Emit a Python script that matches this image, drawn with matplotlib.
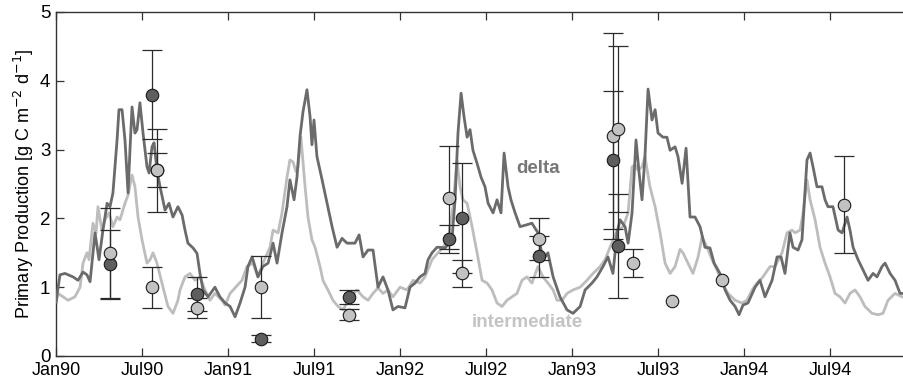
"""
Primary production time series: delta vs intermediate, with field measurements
"""

import matplotlib

matplotlib.use("Agg")
import matplotlib.pyplot as plt

plt.rcParams["font.family"] = ["Liberation Sans", "DejaVu Sans"]

# modelled production, time in decimal years
t_delta = [
    1990.000, 1990.023, 1990.052, 1990.099, 1990.128, 1990.157, 1990.180, 1990.198,
    1990.227, 1990.250, 1990.273, 1990.297, 1990.314, 1990.331, 1990.355, 1990.366,
    1990.384, 1990.401, 1990.419, 1990.430, 1990.442, 1990.459, 1990.471, 1990.488,
    1990.506, 1990.529, 1990.541, 1990.558, 1990.570, 1990.587, 1990.605, 1990.634,
    1990.657, 1990.680, 1990.709, 1990.733, 1990.750, 1990.767, 1990.797, 1990.820,
    1990.837, 1990.855, 1990.884, 1990.924, 1990.953, 1990.983, 1991.012, 1991.041,
    1991.070, 1991.099, 1991.116, 1991.140, 1991.157, 1991.174, 1991.203, 1991.233,
    1991.262, 1991.285, 1991.314, 1991.343, 1991.360, 1991.384, 1991.401, 1991.419,
    1991.436, 1991.459, 1991.477, 1991.488, 1991.500, 1991.517, 1991.547, 1991.576,
    1991.605, 1991.634, 1991.663, 1991.692, 1991.738, 1991.762, 1991.785, 1991.814,
    1991.843, 1991.872, 1991.901, 1991.930, 1991.959, 1991.988, 1992.029, 1992.058,
    1992.087, 1992.116, 1992.145, 1992.163, 1992.186, 1992.215, 1992.233, 1992.262,
    1992.302, 1992.320, 1992.337, 1992.355, 1992.372, 1992.390, 1992.407, 1992.424,
    1992.448, 1992.471, 1992.494, 1992.512, 1992.541, 1992.564, 1992.587, 1992.605,
    1992.628, 1992.645, 1992.669, 1992.698, 1992.727, 1992.767, 1992.802, 1992.831,
    1992.860, 1992.890, 1992.930, 1992.971, 1993.006, 1993.047, 1993.076, 1993.116,
    1993.145, 1993.180, 1993.209, 1993.238, 1993.262, 1993.279, 1993.308, 1993.326,
    1993.349, 1993.372, 1993.390, 1993.407, 1993.424, 1993.442, 1993.465, 1993.483,
    1993.500, 1993.529, 1993.552, 1993.570, 1993.599, 1993.616, 1993.640, 1993.663,
    1993.686, 1993.715, 1993.744, 1993.773, 1993.802, 1993.826, 1993.860, 1993.890,
    1993.919, 1993.948, 1993.971, 1993.994, 1994.023, 1994.064, 1994.093, 1994.122,
    1994.163, 1994.192, 1994.215, 1994.238, 1994.267, 1994.285, 1994.314, 1994.337,
    1994.366, 1994.384, 1994.401, 1994.424, 1994.453, 1994.471, 1994.488, 1994.517,
    1994.547, 1994.570, 1994.599, 1994.616, 1994.634, 1994.663, 1994.692, 1994.721,
    1994.750, 1994.773, 1994.802, 1994.820, 1994.849, 1994.878, 1994.907, 1994.930,
]
pp_delta = [
    0.78, 1.18, 1.20, 1.15, 1.10, 1.22, 1.18, 1.08,
    1.79, 1.40, 1.83, 2.22, 2.17, 2.37, 3.14, 3.58,
    3.58, 3.14, 2.37, 2.99, 3.62, 3.24, 3.29, 3.68,
    3.24, 2.75, 2.66, 3.04, 3.10, 2.70, 2.46, 2.12,
    2.22, 2.02, 2.17, 2.05, 1.83, 1.64, 1.57, 1.49,
    1.20, 0.96, 0.86, 1.00, 0.86, 0.77, 0.72, 0.57,
    0.77, 1.00, 1.30, 1.44, 1.30, 1.15, 1.30, 1.35,
    1.64, 1.35, 1.79, 2.17, 2.56, 2.27, 2.60, 3.20,
    3.55, 3.87, 3.48, 3.07, 3.43, 2.90, 2.56, 2.22,
    1.88, 1.58, 1.71, 1.64, 1.64, 1.76, 1.44, 1.54,
    1.54, 1.00, 1.15, 0.96, 0.67, 0.72, 0.70, 1.00,
    1.06, 1.15, 1.20, 1.40, 1.50, 1.58, 1.58, 1.57,
    1.69, 2.27, 3.24, 3.82, 3.48, 3.18, 3.29, 2.99,
    2.80, 2.60, 2.46, 2.22, 2.08, 2.27, 2.08, 2.95,
    2.46, 2.27, 2.08, 1.88, 1.90, 1.93, 1.79, 1.40,
    1.50, 1.15, 0.86, 0.67, 0.62, 0.72, 0.96, 1.06,
    1.15, 1.30, 1.44, 1.20, 1.79, 1.98, 1.88, 1.64,
    2.08, 3.14, 2.66, 2.27, 2.90, 3.88, 3.43, 3.58,
    3.24, 3.18, 3.18, 2.99, 3.04, 2.90, 2.51, 3.02,
    2.02, 2.02, 1.88, 1.58, 1.57, 1.35, 1.20, 0.96,
    0.81, 0.72, 0.60, 0.74, 0.77, 1.00, 1.10, 0.86,
    1.10, 1.44, 1.44, 1.20, 1.79, 1.58, 1.54, 1.69,
    2.85, 2.95, 2.75, 2.46, 2.46, 2.27, 2.17, 2.17,
    1.83, 1.79, 2.02, 1.83, 1.58, 1.40, 1.25, 1.10,
    1.20, 1.15, 1.30, 1.35, 1.20, 1.10, 0.91, 0.91,
]

t_inter = [
    1990.000, 1990.012, 1990.041, 1990.070, 1990.110, 1990.140, 1990.157, 1990.180,
    1990.192, 1990.215, 1990.233, 1990.244, 1990.267, 1990.285, 1990.308, 1990.331,
    1990.355, 1990.372, 1990.401, 1990.419, 1990.442, 1990.459, 1990.477, 1990.500,
    1990.529, 1990.547, 1990.564, 1990.587, 1990.622, 1990.651, 1990.680, 1990.709,
    1990.721, 1990.750, 1990.779, 1990.808, 1990.837, 1990.866, 1990.895, 1990.924,
    1990.965, 1990.983, 1991.012, 1991.041, 1991.081, 1991.110, 1991.145, 1991.174,
    1991.203, 1991.244, 1991.262, 1991.291, 1991.314, 1991.343, 1991.360, 1991.378,
    1991.395, 1991.407, 1991.424, 1991.448, 1991.465, 1991.488, 1991.506, 1991.535,
    1991.552, 1991.581, 1991.610, 1991.640, 1991.669, 1991.709, 1991.750, 1991.785,
    1991.814, 1991.843, 1991.872, 1991.901, 1991.930, 1991.959, 1992.000, 1992.041,
    1992.076, 1992.116, 1992.145, 1992.186, 1992.221, 1992.250, 1992.279, 1992.308,
    1992.331, 1992.349, 1992.366, 1992.390, 1992.419, 1992.448, 1992.477, 1992.506,
    1992.535, 1992.564, 1992.593, 1992.622, 1992.651, 1992.680, 1992.709, 1992.738,
    1992.767, 1992.802, 1992.831, 1992.860, 1992.890, 1992.913, 1992.942, 1992.971,
    1993.006, 1993.047, 1993.087, 1993.122, 1993.163, 1993.192, 1993.221, 1993.262,
    1993.297, 1993.326, 1993.349, 1993.366, 1993.384, 1993.407, 1993.424, 1993.453,
    1993.483, 1993.512, 1993.541, 1993.570, 1993.599, 1993.628, 1993.645, 1993.674,
    1993.703, 1993.733, 1993.756, 1993.785, 1993.814, 1993.843, 1993.872, 1993.907,
    1993.948, 1993.988, 1994.017, 1994.047, 1994.076, 1994.110, 1994.151, 1994.180,
    1994.221, 1994.250, 1994.279, 1994.297, 1994.326, 1994.343, 1994.366, 1994.384,
    1994.413, 1994.442, 1994.471, 1994.500, 1994.529, 1994.558, 1994.587, 1994.616,
    1994.645, 1994.674, 1994.703, 1994.744, 1994.779, 1994.808, 1994.837, 1994.878,
    1994.919,
]
pp_inter = [
    0.77, 0.91, 0.86, 0.81, 0.86, 1.00, 1.35, 1.50,
    1.40, 1.93, 1.79, 2.17, 1.83, 1.98, 2.08, 1.88,
    2.02, 1.98, 2.22, 2.34, 2.63, 2.46, 2.02, 1.69,
    1.35, 1.40, 1.50, 1.35, 1.00, 0.72, 0.62, 0.81,
    0.96, 1.15, 1.20, 1.10, 1.15, 0.96, 0.81, 0.91,
    0.81, 0.74, 0.91, 0.99, 1.10, 1.30, 1.35, 1.15,
    1.35, 1.58, 1.83, 1.79, 2.08, 2.60, 2.85, 2.82,
    2.68, 2.75, 3.18, 2.46, 2.02, 1.69, 1.58, 1.30,
    1.10, 0.96, 0.81, 0.72, 0.67, 0.86, 0.96, 0.86,
    0.81, 0.91, 0.99, 0.91, 0.96, 0.86, 1.00, 0.96,
    1.10, 1.06, 1.15, 1.40, 1.50, 1.58, 1.69, 2.17,
    2.85, 2.46, 2.27, 2.22, 1.88, 1.50, 1.10, 1.06,
    0.96, 0.77, 0.72, 0.81, 0.86, 0.91, 1.10, 1.15,
    1.06, 1.30, 1.15, 1.06, 0.96, 0.81, 0.81, 0.91,
    0.96, 1.00, 1.10, 1.20, 1.30, 1.40, 1.58, 1.83,
    1.88, 2.08, 2.75, 2.78, 2.70, 2.75, 2.90, 2.46,
    2.17, 1.79, 1.35, 1.20, 1.30, 1.55, 1.50, 1.35,
    1.20, 1.44, 1.73, 1.58, 1.40, 1.25, 1.06, 0.91,
    0.81, 0.77, 0.81, 0.96, 1.06, 1.15, 1.30, 1.30,
    1.50, 1.79, 1.83, 1.79, 1.83, 2.08, 2.56, 2.27,
    1.98, 1.58, 1.35, 1.15, 0.91, 0.86, 0.77, 0.91,
    0.96, 0.86, 0.72, 0.62, 0.60, 0.62, 0.81, 0.91,
    0.86,
]

# measured production with errors
obs_t_delta = [1990.314, 1990.558, 1990.587, 1990.820, 1991.192, 1991.703,
               1992.285, 1992.360, 1992.808, 1993.238, 1993.267]
obs_delta = [1.33, 3.80, 2.70, 0.90, 0.25, 0.86, 1.70, 2.00, 1.45, 2.85, 1.60]
err_delta = [0.50, 0.65, 0.25, 0.25, 0.05, 0.10, 0.20, 0.80, 0.30, 1.00, 0.75]

obs_t_inter = [1990.314, 1990.558, 1990.587, 1990.820, 1991.192, 1991.703,
               1992.285, 1992.360, 1992.808, 1993.238, 1993.267, 1993.355,
               1993.581, 1993.872, 1994.581]
obs_inter = [1.50, 1.00, 2.70, 0.70, 1.00, 0.60, 2.30, 1.20, 1.70, 3.20, 3.30,
             1.35, 0.80, 1.10, 2.20]
err_inter = [0.65, 0.30, 0.60, 0.15, 0.45, 0.08, 0.75, 0.20, 0.30, 1.50, 1.20,
             0.20, 0.00, 0.00, 0.70]

xticks = [1990.0, 1990.5, 1991.0, 1991.5, 1992.0, 1992.5, 1993.0, 1993.5,
          1994.0, 1994.5]
xticklabels = ["Jan90", "Jul90", "Jan91", "Jul91", "Jan92", "Jul92", "Jan93",
               "Jul93", "Jan94", "Jul94"]

dark_line = "#6b6b6b"
light_line = "#bdbdbd"

fig = plt.figure(figsize=(9.04, 3.82), dpi=100)
ax = fig.add_axes([56 / 904, 26 / 382, 848 / 904, 344 / 382])

ax.plot(t_inter, pp_inter, color=light_line, lw=2.0, zorder=2,
        solid_joinstyle="round")
ax.plot(t_delta, pp_delta, color=dark_line, lw=2.0, zorder=3,
        solid_joinstyle="round")

# error bars only where there is an error
for t, v, e in zip(obs_t_delta + obs_t_inter, obs_delta + obs_inter,
                   err_delta + err_inter):
    if e > 0:
        ax.errorbar(t, v, yerr=e, fmt="none", ecolor="#2b2b2b", elinewidth=0.9,
                    capsize=7.5, capthick=0.9, zorder=4)

ax.plot(obs_t_delta, obs_delta, "o", ms=9, mfc="#5e5e5e", mec="#1a1a1a",
        mew=0.8, zorder=5)
ax.plot(obs_t_inter, obs_inter, "o", ms=9, mfc="#c2c2c2", mec="#1a1a1a",
        mew=0.8, zorder=6)

ax.text(1992.674, 2.73, "delta", color="#777777", fontsize=13.5,
        fontweight="bold", va="center", ha="left")
ax.text(1992.419, 0.49, "intermediate", color="#c4c4c4", fontsize=13.5,
        fontweight="bold", va="center", ha="left")

ax.set_xlim(1990.0, 1994.93)
ax.set_ylim(0, 5)
ax.set_xticks(xticks)
ax.set_xticklabels(xticklabels)
ax.set_yticks([0, 1, 2, 3, 4, 5])
ax.tick_params(direction="in", length=6, width=0.9, color="#333333",
               labelsize=13, top=True, right=False)
ax.tick_params(axis="x", pad=4)
ax.tick_params(axis="y", pad=4, labelsize=13.5)
ax.spines["right"].set_visible(False)
for s in ["left", "top", "bottom"]:
    ax.spines[s].set_color("#333333")
    ax.spines[s].set_linewidth(1.0)
ax.set_ylabel(r"Primary Production [g C m$^{-2}$ d$^{-1}$]", fontsize=13,
              labelpad=3)

fig.savefig("out.png", dpi=100)
